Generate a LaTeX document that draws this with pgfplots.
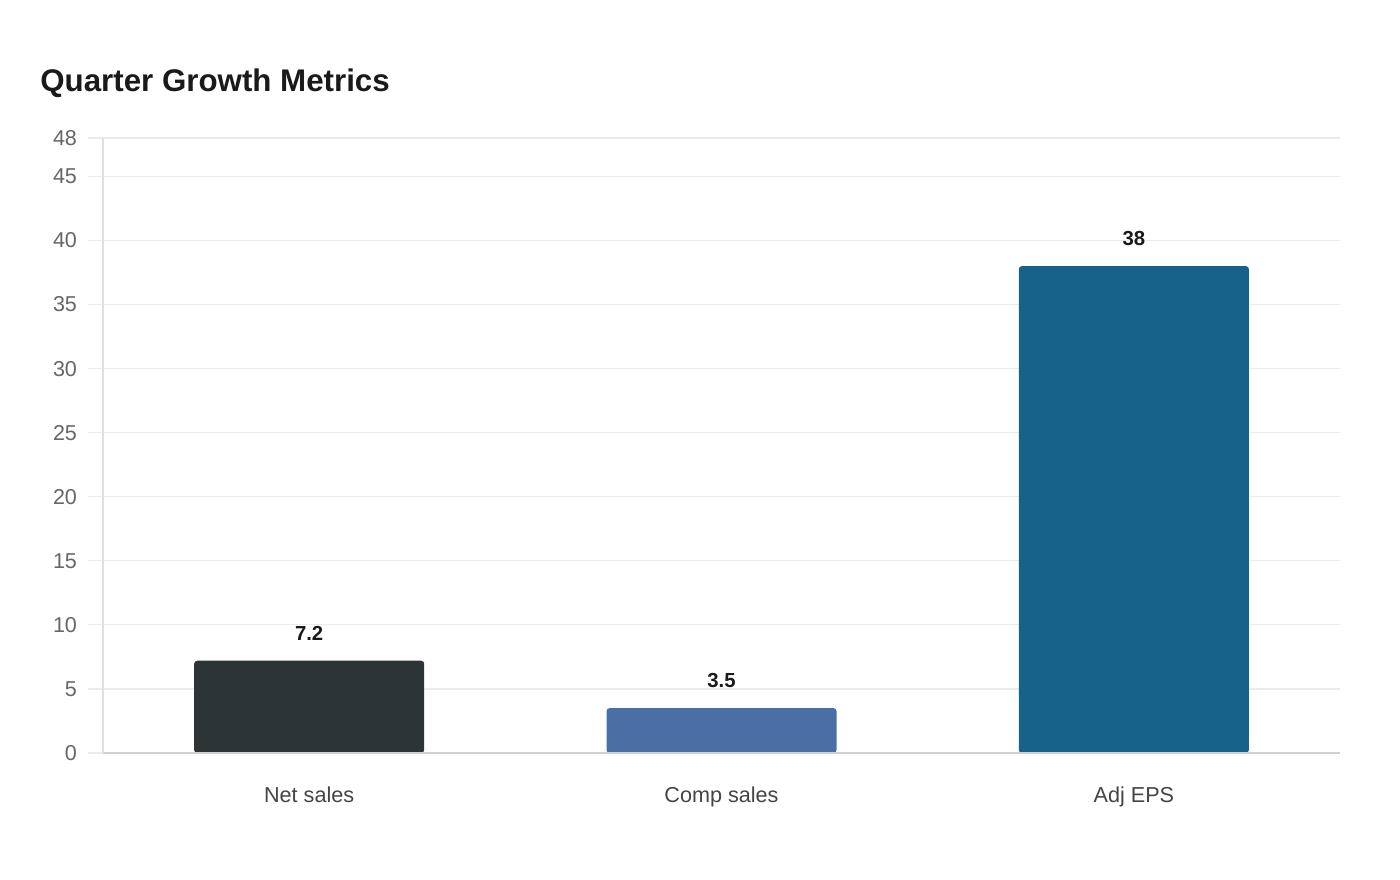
\documentclass[border=0pt]{standalone}
\usepackage{fontspec}
\setmainfont{Liberation Sans}
\usepackage{pgfplots}
\pgfplotsset{compat=1.18}
\definecolor{titleink}{HTML}{1A1A1A}
\definecolor{tickink}{HTML}{666666}
\definecolor{catink}{HTML}{444444}
\definecolor{gridc}{HTML}{EBEBEB}
\definecolor{axisc}{HTML}{D0D0D0}
\definecolor{yaxisc}{HTML}{E0E0E0}
\definecolor{cNet}{HTML}{2D3436}
\definecolor{cComp}{HTML}{4A6FA5}
\definecolor{cEps}{HTML}{176289}
\begin{document}
\begin{tikzpicture}[x=1bp,y=1bp]
\useasboundingbox (0,0) rectangle (700,440);
\node[anchor=base west, font=\fontsize{15.7}{18}\selectfont\bfseries, text=titleink, inner sep=0pt]
  at (20,394) {Quarter Growth Metrics};
\begin{axis}[
  at={(51.5bp,63.5bp)}, anchor=south west,
  scale only axis,
  width=618.5bp, height=307.5bp,
  xmin=-0.5, xmax=2.5,
  ymin=0, ymax=48,
  xtick={0,1,2},
  xticklabels={Net sales, Comp sales, Adj EPS},
  ytick={0,5,10,15,20,25,30,35,40,45,48},
  /pgf/number format/assume math mode=true,
  axis lines*=left,
  axis line style={draw=none},
  ymajorgrids,
  grid style={gridc, line width=0.6pt},
  major tick length=7.5bp,
  tick align=outside,
  xtick style={draw=none},
  ytick style={gridc, line width=0.6pt},
  yticklabel style={font=\fontsize{10.8}{13}\selectfont, text=tickink, xshift=-2bp},
  xticklabel style={font=\fontsize{10.85}{13}\selectfont, text=catink, yshift=-6bp},
  ybar, bar width=115bp, bar shift=0pt,
  nodes near coords,
  every node near coord/.append style={font=\fontsize{10.2}{12}\selectfont\bfseries, text=titleink, anchor=south, yshift=6.8bp},
  clip=false,
]
\addplot[fill=cNet, draw=none, rounded corners=1.5bp] coordinates {(0,7.2)};
\addplot[fill=cComp, draw=none, rounded corners=1.5bp] coordinates {(1,3.5)};
\addplot[fill=cEps, draw=none, rounded corners=1.5bp] coordinates {(2,38)};
\draw[axisc, line width=0.6pt] (axis cs:-0.5,0) -- (axis cs:2.5,0);
\draw[yaxisc, line width=0.6pt] (axis cs:-0.5,0) -- (axis cs:-0.5,48);
\end{axis}
\end{tikzpicture}
\end{document}
